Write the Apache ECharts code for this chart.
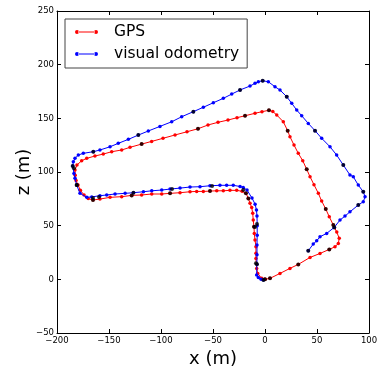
<!DOCTYPE html>
<html>
<head>
<meta charset="utf-8">
<script src="https://cdn.jsdelivr.net/npm/echarts@6/dist/echarts.min.js"></script>
<style>
  html, body { margin: 0; padding: 0; background: #fff; }
  #chart { width: 381px; height: 367px; }
</style>
</head>
<body>
<div id="chart"></div>
<script>
// GPS trajectory (x, z in metres)
const gpsX = [0, 4.8, 14.4, 24.0, 32.0, 43.3, 52.9, 61.8, 67.3, 70.5, 71.4, 69.0, 65.7, 61.8, 58.4, 54.5, 51.3, 47.1, 43.3, 40.1, 36.3, 32.0, 27.9, 24.0, 21.8, 17.6, 11.3, 7.5, 3.8,
  -2.9, -9.6, -19.2, -26.9, -35.6, -45.2, -54.8, -64.4, -75.0, -86.5, -98.1, -109.0, -118.6, -129.8, -137.8, -147.4, -155.5, -163.5, -171.4, -176.3, -180.8, -182.7, -182.5, -181.7, -179.8, -177.5, -174.0, -170.0, -165.4,
  -158.7, -149.0, -137.8, -128.2, -118.6, -108.9, -99.3, -91.3, -81.7, -72.1, -65.7, -59.3, -52.9, -46.4, -40.1, -33.7, -27.2, -22.0, -18.3, -16.0, -14.4, -12.8, -11.8, -11.3, -10.6, -10.3, -9.6, -8.7, -8.7, -8.7, -8.0, -7.0, -3.2, 0];
const gpsZ = [0, 0.9, 5.5, 10.2, 13.9, 20.4, 24.1, 27.9, 30.3, 33.5, 38.2, 44.0, 50.6, 58.3, 65.5, 72.9, 80.1, 88.2, 95.6, 102.5, 110.5, 117.4, 125.1, 132.9, 138.4, 146.8, 153.1, 156.3, 157.5,
  156.2, 154.7, 152.4, 150.6, 148.4, 146.3, 143.8, 140.3, 137.5, 134.5, 131.4, 128.5, 126.0, 123.0, 120.5, 118.9, 116.7, 114.9, 112.7, 110.5, 106.5, 101.8, 97.0, 92.0, 87.8, 83.0, 78.5, 75.2, 73.9,
  74.8, 76.4, 77.0, 78.2, 78.6, 79.5, 79.5, 80.1, 80.7, 81.6, 81.9, 81.9, 82.2, 82.5, 82.5, 82.9, 82.9, 82.0, 80.1, 75.4, 70.8, 67.0, 61.5, 55.2, 49.0, 42.8, 36.6, 30.3, 24.2, 19.5, 10.2, 5.5, 0.9, 0];

// visual odometry trajectory
const voX = [-1.5, -3.8, -6.4, -8.0, -7.8, -7.7, -7.7, -7.5, -7.5, -7.7, -8.2, -9.5, -12.5, -17.3, -20.9, -24.0, -30.5, -36.9, -43.3, -52.9, -62.5, -72.1,
  -81.7, -91.3, -99.3, -108.9, -116.9, -126.5, -134.5, -144.2, -152.2, -158.7, -166.6, -171.4, -177.9, -181.1, -182.7, -183.7, -184.9, -184.3, -182.7, -179.5, -174.7,
  -165.1, -158.7, -149.0, -141.1, -131.4, -121.8, -112.2, -101.0, -89.7, -80.1, -68.9, -59.3, -49.7, -40.1, -32.0, -24.0, -14.4, -9.6, -6.4, -2.2, 3.2, 9.6,
  14.4, 20.9, 25.7, 30.5, 35.3, 41.6, 48.1, 54.5, 62.5, 68.9, 75.3, 81.7, 84.9, 89.7, 94.5, 96.2, 94.5, 89.7, 81.7, 76.9, 72.1, 66.6, 59.3, 52.9, 49.7, 46.4, 41.6];
const voZ = [-0.6, 0, 1.8, 4.0, 14.0, 23.0, 32.0, 41.0, 50.0, 59.0, 64.5, 70.0, 75.7, 83.2, 85.5, 86.5, 87.6, 87.6, 87.6, 87.2, 86.3, 86.0,
  85.0, 84.1, 83.2, 82.5, 81.6, 80.7, 80.1, 79.5, 78.6, 77.9, 76.8, 76.4, 80.1, 87.8, 94.1, 98.7, 105.5, 109.5, 112.7, 115.8, 117.4,
  118.9, 120.5, 123.5, 126.7, 130.4, 134.4, 138.2, 142.5, 146.8, 151.5, 156.2, 160.3, 164.5, 168.6, 172.6, 176.4, 180.1, 182.6, 184.1, 185.0, 184.1, 179.4,
  176.4, 170.1, 164.0, 157.7, 152.4, 145.3, 138.5, 131.4, 123.5, 115.8, 106.5, 97.2, 95.6, 87.8, 81.6, 76.9, 72.3, 69.2, 62.9, 58.9, 55.2, 48.4, 42.8, 39.7, 35.9, 32.9, 26.6];

// black keyframe markers
const gpsKeyX = [0, 4.8, 32.0, 61.8, 65.7, 58.4, 40.1, 21.8, 3.8, -19.2, -64.4, -118.6, -183.7, -180.8, -165.4, -159.6, -128.2, -91.3, -52.9, -18.3, -16.0, -10.6, -8.7];
const gpsKeyZ = [0, 0.9, 13.9, 27.9, 50.6, 65.5, 102.5, 138.4, 157.5, 152.4, 140.3, 126.0, 103.5, 87.8, 73.9, 76.7, 78.2, 80.1, 82.2, 80.1, 75.4, 49.0, 14.9];
const voKeyX = [-1.5, -7.7, -7.7, -9.6, -20.9, -50.9, -89.4, -126.5, -165.4, -181.1, -184.9, -165.1, -121.8, -68.9, -24.0, -2.2, 20.9, 48.1, 75.3, 94.5, 89.7, 66.6, 41.6];
const voKeyZ = [-0.6, 14.0, 51.5, 48.7, 83.2, 86.9, 84.1, 80.7, 75.7, 87.8, 105.5, 118.9, 134.4, 156.2, 176.4, 185.0, 170.1, 138.5, 106.5, 81.6, 69.2, 48.4, 26.6];

const xTicks = { min: -200, max: 100, step: 50 };
const zTicks = { min: -50, max: 250, step: 50 };

const pairs = (xs, ys) => xs.map((x, i) => [x, ys[i]]);
const minus = v => String(v).replace('-', '\u2212');
const font = 'DejaVu Sans';

const axisCommon = {
  type: 'value',
  splitLine: { show: false },
  axisLine: { show: true, onZero: false, lineStyle: { color: '#000', width: 1 } },
  axisTick: { show: true, inside: true, length: 4, lineStyle: { color: '#000' } },
  axisLabel: { color: '#000', fontSize: 8.5, fontFamily: font, margin: 3, formatter: minus }
};

const legendIcon = 'path://M0,2.5A2,2,0,1,0,4,2.5A2,2,0,1,0,0,2.5Z M3,2L20,2L20,3L3,3Z M19,2.5A2,2,0,1,0,23,2.5A2,2,0,1,0,19,2.5Z';

const chart = echarts.init(document.getElementById('chart'));
chart.setOption({
  animation: false,
  backgroundColor: '#fff',
  textStyle: { fontFamily: font },
  grid: { left: 57, right: 12, top: 11, bottom: 34, outerBoundsMode: 'none', containLabel: false },
  legend: {
    data: ['GPS', 'visual odometry'],
    orient: 'vertical',
    left: 65,
    top: 19,
    padding: [5, 8, 6, 10],
    itemGap: 6,
    itemWidth: 23,
    itemHeight: 4,
    icon: legendIcon,
    borderColor: '#444',
    borderWidth: 1,
    backgroundColor: '#fff',
    textStyle: { fontSize: 15.5, fontFamily: font, color: '#000', padding: [0, 0, 0, 11] }
  },
  xAxis: [
    Object.assign({}, axisCommon, {
      min: xTicks.min, max: xTicks.max, interval: xTicks.step,
      position: 'bottom',
      name: 'x (m)', nameLocation: 'middle', nameGap: 14,
      nameTextStyle: { fontSize: 18, fontFamily: font, color: '#000' }
    }),
    Object.assign({}, axisCommon, {
      min: xTicks.min, max: xTicks.max, interval: xTicks.step,
      position: 'top',
      axisLabel: { show: false }
    })
  ],
  yAxis: [
    Object.assign({}, axisCommon, {
      min: zTicks.min, max: zTicks.max, interval: zTicks.step,
      position: 'left',
      name: 'z (m)', nameLocation: 'middle', nameGap: 24, nameRotate: 90, nameMoveOverlap: false,
      nameTextStyle: { fontSize: 18, fontFamily: font, color: '#000' }
    }),
    Object.assign({}, axisCommon, {
      min: zTicks.min, max: zTicks.max, interval: zTicks.step,
      position: 'right',
      axisLabel: { show: false }
    })
  ],
  series: [
    {
      name: 'GPS', type: 'line', data: pairs(gpsX, gpsZ),
      symbol: 'circle', symbolSize: 3.5, showSymbol: true,
      lineStyle: { color: '#ff0000', width: 1 },
      itemStyle: { color: '#ff0000' }, z: 2
    },
    {
      name: 'visual odometry', type: 'line', data: pairs(voX, voZ),
      symbol: 'circle', symbolSize: 3.5, showSymbol: true,
      lineStyle: { color: '#0000ff', width: 1 },
      itemStyle: { color: '#0000ff' }, z: 3
    },
    {
      name: 'GPS keyframes', type: 'scatter', data: pairs(gpsKeyX, gpsKeyZ),
      symbol: 'circle', symbolSize: 4, itemStyle: { color: '#000' }, z: 4
    },
    {
      name: 'VO keyframes', type: 'scatter', data: pairs(voKeyX, voKeyZ),
      symbol: 'circle', symbolSize: 4, itemStyle: { color: '#000' }, z: 4
    }
  ]
});
</script>
</body>
</html>
